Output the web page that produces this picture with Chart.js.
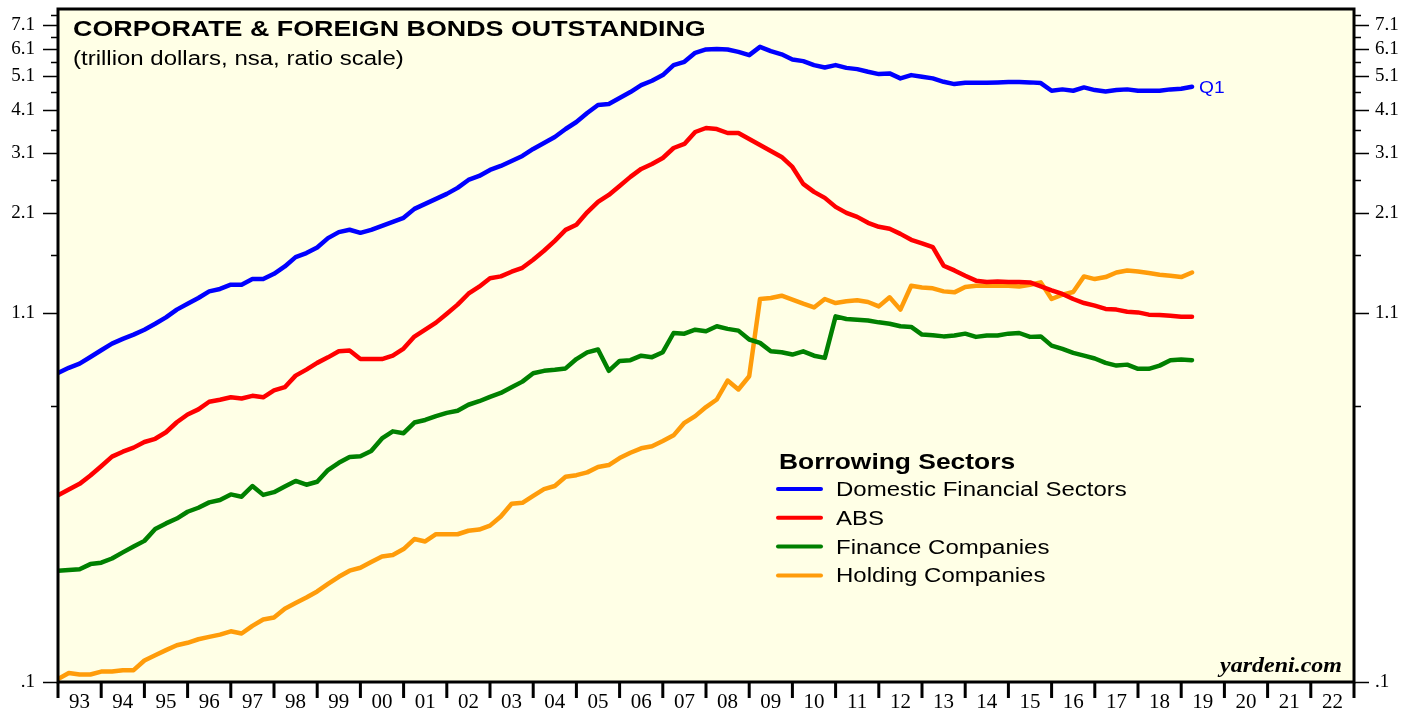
<!DOCTYPE html>
<html>
<head>
<meta charset="utf-8">
<title>Corporate & Foreign Bonds Outstanding</title>
<script src="https://cdn.jsdelivr.net/npm/chart.js@4.4.1/dist/chart.umd.min.js"></script>
<style>
  html, body { margin: 0; padding: 0; background: #fff; overflow: hidden; }
  #wrap { width: 1419px; height: 710px; }
</style>
</head>
<body>
<div id="wrap"><canvas id="bonds" width="1419" height="710"></canvas></div>
<script>
// quarterly, starting 1993 Q1 (trillion dollars)
const START_YEAR = 1993;
const END_YEAR = 2023;
const LAST_QUARTER = 'Q1';

const yearLabels = ['93','94','95','96','97','98','99','00','01','02','03','04','05','06','07',
                    '08','09','10','11','12','13','14','15','16','17','18','19','20','21','22'];
const majorTicks = [0.1, 1.1, 2.1, 3.1, 4.1, 5.1, 6.1, 7.1];
const minorTicks = [0.6, 1.6, 2.6, 3.6, 4.6, 5.6, 6.6, 7.6];

const domestic = [
  0.744, 0.769, 0.790, 0.825, 0.862, 0.900, 0.928, 0.954, 0.985, 1.024,
  1.067, 1.122, 1.166, 1.210, 1.263, 1.283, 1.319, 1.319, 1.368, 1.368,
  1.416, 1.485, 1.578, 1.620, 1.680, 1.785, 1.856, 1.884, 1.847, 1.883,
  1.933, 1.984, 2.036, 2.158, 2.229, 2.303, 2.379, 2.473, 2.604, 2.673,
  2.779, 2.852, 2.946, 3.043, 3.184, 3.310, 3.441, 3.625, 3.793, 4.021,
  4.235, 4.262, 4.431, 4.607, 4.820, 4.957, 5.143, 5.488, 5.606, 5.943,
  6.076, 6.095, 6.076, 5.982, 5.855, 6.179, 6.010, 5.886, 5.694, 5.632,
  5.488, 5.406, 5.488, 5.390, 5.347, 5.255, 5.177, 5.200, 5.034, 5.143,
  5.087, 5.035, 4.925, 4.852, 4.893, 4.893, 4.893, 4.906, 4.915, 4.915,
  4.906, 4.883, 4.646, 4.688, 4.646, 4.749, 4.667, 4.627, 4.667, 4.688,
  4.646, 4.646, 4.646, 4.688, 4.706, 4.768
];
const abs = [
  0.336, 0.349, 0.362, 0.382, 0.406, 0.432, 0.446, 0.458, 0.475, 0.485,
  0.506, 0.540, 0.568, 0.587, 0.617, 0.625, 0.635, 0.630, 0.641, 0.635,
  0.664, 0.678, 0.731, 0.760, 0.794, 0.823, 0.856, 0.860, 0.814, 0.814,
  0.814, 0.832, 0.871, 0.942, 0.985, 1.031, 1.093, 1.159, 1.244, 1.302,
  1.376, 1.392, 1.435, 1.472, 1.551, 1.644, 1.754, 1.883, 1.946, 2.110,
  2.258, 2.363, 2.505, 2.656, 2.797, 2.889, 3.003, 3.204, 3.289, 3.555,
  3.648, 3.624, 3.532, 3.532, 3.397, 3.268, 3.143, 3.023, 2.833, 2.538,
  2.410, 2.318, 2.186, 2.103, 2.049, 1.971, 1.921, 1.896, 1.835, 1.765,
  1.726, 1.684, 1.492, 1.447, 1.398, 1.354, 1.342, 1.347, 1.342, 1.342,
  1.339, 1.304, 1.271, 1.242, 1.202, 1.171, 1.151, 1.127, 1.122, 1.107,
  1.102, 1.086, 1.084, 1.079, 1.072, 1.072
];
const financeCos = [
  0.206, 0.207, 0.208, 0.215, 0.217, 0.223, 0.232, 0.241, 0.250, 0.270,
  0.280, 0.289, 0.302, 0.310, 0.321, 0.326, 0.338, 0.333, 0.357, 0.337,
  0.343, 0.356, 0.369, 0.360, 0.367, 0.396, 0.415, 0.431, 0.433, 0.448,
  0.486, 0.509, 0.503, 0.539, 0.548, 0.562, 0.574, 0.582, 0.605, 0.619,
  0.637, 0.653, 0.678, 0.703, 0.742, 0.754, 0.759, 0.766, 0.814, 0.850,
  0.866, 0.754, 0.804, 0.808, 0.832, 0.824, 0.851, 0.964, 0.960, 0.985,
  0.975, 1.007, 0.990, 0.979, 0.924, 0.904, 0.856, 0.851, 0.838, 0.856,
  0.832, 0.820, 1.074, 1.056, 1.051, 1.046, 1.033, 1.024, 1.007, 1.003,
  0.954, 0.950, 0.943, 0.948, 0.960, 0.940, 0.948, 0.948, 0.960, 0.964,
  0.940, 0.943, 0.888, 0.869, 0.847, 0.832, 0.817, 0.794, 0.780, 0.785,
  0.764, 0.764, 0.780, 0.808, 0.811, 0.808
];
const holdingCos = [
  0.102, 0.106, 0.105, 0.105, 0.107, 0.107, 0.108, 0.108, 0.115, 0.119,
  0.123, 0.127, 0.129, 0.132, 0.134, 0.136, 0.139, 0.137, 0.144, 0.150,
  0.152, 0.161, 0.167, 0.173, 0.180, 0.189, 0.198, 0.206, 0.210, 0.218,
  0.226, 0.228, 0.237, 0.253, 0.249, 0.261, 0.261, 0.261, 0.267, 0.269,
  0.276, 0.293, 0.318, 0.320, 0.335, 0.350, 0.357, 0.379, 0.383, 0.390,
  0.404, 0.409, 0.428, 0.443, 0.456, 0.462, 0.478, 0.496, 0.538, 0.562,
  0.596, 0.626, 0.708, 0.668, 0.728, 1.202, 1.210, 1.228, 1.197, 1.166,
  1.138, 1.202, 1.171, 1.184, 1.192, 1.179, 1.146, 1.215, 1.122, 1.310,
  1.296, 1.288, 1.263, 1.255, 1.299, 1.310, 1.310, 1.310, 1.310, 1.304,
  1.319, 1.339, 1.202, 1.236, 1.258, 1.392, 1.368, 1.386, 1.428, 1.447,
  1.437, 1.423, 1.407, 1.398, 1.386, 1.428
];

const SANS = '"Liberation Sans", Arial, sans-serif';
const SERIF = '"Liberation Serif", "Times New Roman", serif';

const toPoints = arr => arr.map((v, i) => ({ x: START_YEAR + i / 4, y: v }));

function line(label, data, color) {
  return {
    label, data: toPoints(data), borderColor: color, backgroundColor: color,
    borderWidth: 4.5, pointRadius: 0, tension: 0, borderJoinStyle: 'round', borderCapStyle: 'round',
  };
}

// source picture is a bit wide, so text gets a small horizontal stretch
function wideText(ctx, text, x, y, font, color, align = 'left', sx = 1.2) {
  ctx.save();
  ctx.font = font;
  ctx.fillStyle = color;
  ctx.textBaseline = 'alphabetic';
  const w = ctx.measureText(text).width * sx;
  const left = align === 'right' ? x - w : x;
  ctx.translate(left, y);
  ctx.scale(sx, 1);
  ctx.fillText(text, 0, 0);
  ctx.restore();
}

const decor = {
  id: 'decor',
  beforeDraw(chart) {
    const { ctx, chartArea: a } = chart;
    ctx.save();
    ctx.fillStyle = '#FFFFE6';
    ctx.fillRect(a.left, a.top, a.right - a.left, a.bottom - a.top);
    ctx.restore();
  },
  afterDatasetsDraw(chart) {
    const { ctx, chartArea: a, scales } = chart;
    ctx.save();

    // frame
    ctx.strokeStyle = '#000';
    ctx.lineWidth = 3;
    ctx.strokeRect(a.left, a.top, a.right - a.left, a.bottom - a.top);

    // y ticks, both sides
    ctx.lineWidth = 1.5;
    const ys = scales.y;
    const tick = (v, len) => {
      const p = Math.round(ys.getPixelForValue(v)) + 0.5;
      ctx.beginPath();
      ctx.moveTo(a.left - len, p); ctx.lineTo(a.left, p);
      ctx.moveTo(a.right, p); ctx.lineTo(a.right + len, p);
      ctx.stroke();
    };
    majorTicks.forEach(v => tick(v, 15));
    minorTicks.forEach(v => tick(v, 7));

    // year boundary ticks
    ctx.lineWidth = 3;
    const xs = scales.x;
    for (let yr = START_YEAR; yr <= END_YEAR; yr++) {
      const p = xs.getPixelForValue(yr);
      ctx.beginPath();
      ctx.moveTo(p, a.bottom); ctx.lineTo(p, a.bottom + 16);
      ctx.stroke();
    }

    // titles
    wideText(ctx, 'CORPORATE & FOREIGN BONDS OUTSTANDING', 73, 36, 'bold 22px ' + SANS, '#000', 'left', 1.22);
    wideText(ctx, '(trillion dollars, nsa, ratio scale)', 73, 65, '20px ' + SANS, '#000');

    // legend
    wideText(ctx, 'Borrowing Sectors', 779, 469, 'bold 22px ' + SANS, '#000');
    chart.data.datasets.forEach((ds, i) => {
      const cy = 489 + i * 28.8;
      ctx.strokeStyle = ds.borderColor;
      ctx.lineWidth = 4;
      ctx.lineCap = 'round';
      ctx.beginPath();
      ctx.moveTo(778, cy); ctx.lineTo(821, cy);
      ctx.stroke();
      wideText(ctx, ds.label, 836, cy + 7, '20px ' + SANS, '#000');
    });

    // last-quarter marker on the domestic line
    const last = chart.data.datasets[0].data[domestic.length - 1];
    wideText(ctx, LAST_QUARTER, xs.getPixelForValue(last.x) + 7,
             ys.getPixelForValue(last.y) + 6, '16px ' + SANS, '#0000FF');

    wideText(ctx, 'yardeni.com', 1342, 672, 'bold italic 20px ' + SERIF, '#000', 'right', 1.2);
    ctx.restore();
  }
};

const tickLabel = v => (v < 1 ? String(v).replace('0.', '.') : v.toFixed(1));
const yAxis = (position, width, padding) => ({
  type: 'logarithmic',
  position,
  min: 0.1,
  max: 7.9,
  grid: { display: false, drawTicks: false },
  border: { display: false },
  afterBuildTicks: s => { s.ticks = majorTicks.map(v => ({ value: v })); },
  afterFit: s => { s.width = width; s.paddingTop = 0; s.paddingBottom = 0; },
  ticks: {
    padding,
    color: '#000',
    font: { family: SERIF, size: 19 },
    callback: tickLabel,
  },
});

new Chart(document.getElementById('bonds'), {
  type: 'line',
  data: {
    datasets: [
      line('Domestic Financial Sectors', domestic, '#0000FF'),
      line('ABS', abs, '#FF0000'),
      line('Finance Companies', financeCos, '#008000'),
      line('Holding Companies', holdingCos, '#FF9C0A'),
    ],
  },
  options: {
    responsive: false,
    animation: false,
    events: [],
    layout: { padding: { top: 9, left: 0, right: 0, bottom: 0 } },
    plugins: { legend: { display: false }, tooltip: { enabled: false } },
    scales: {
      x: {
        type: 'linear',
        min: START_YEAR,
        max: END_YEAR,
        grid: { display: false, drawTicks: false },
        border: { display: false },
        afterBuildTicks: s => { s.ticks = yearLabels.map((_, i) => ({ value: START_YEAR + i + 0.5 })); },
        afterFit: s => { s.height = 28; s.paddingLeft = 0; s.paddingRight = 0; },
        ticks: {
          padding: 8,
          autoSkip: false,
          maxRotation: 0,
          color: '#000',
          font: { family: SERIF, size: 21 },
          callback: (v, i) => yearLabels[i],
        },
      },
      y: yAxis('left', 58, 23),
      yRight: yAxis('right', 65, 21),
    },
  },
  plugins: [decor],
});
</script>
</body>
</html>
